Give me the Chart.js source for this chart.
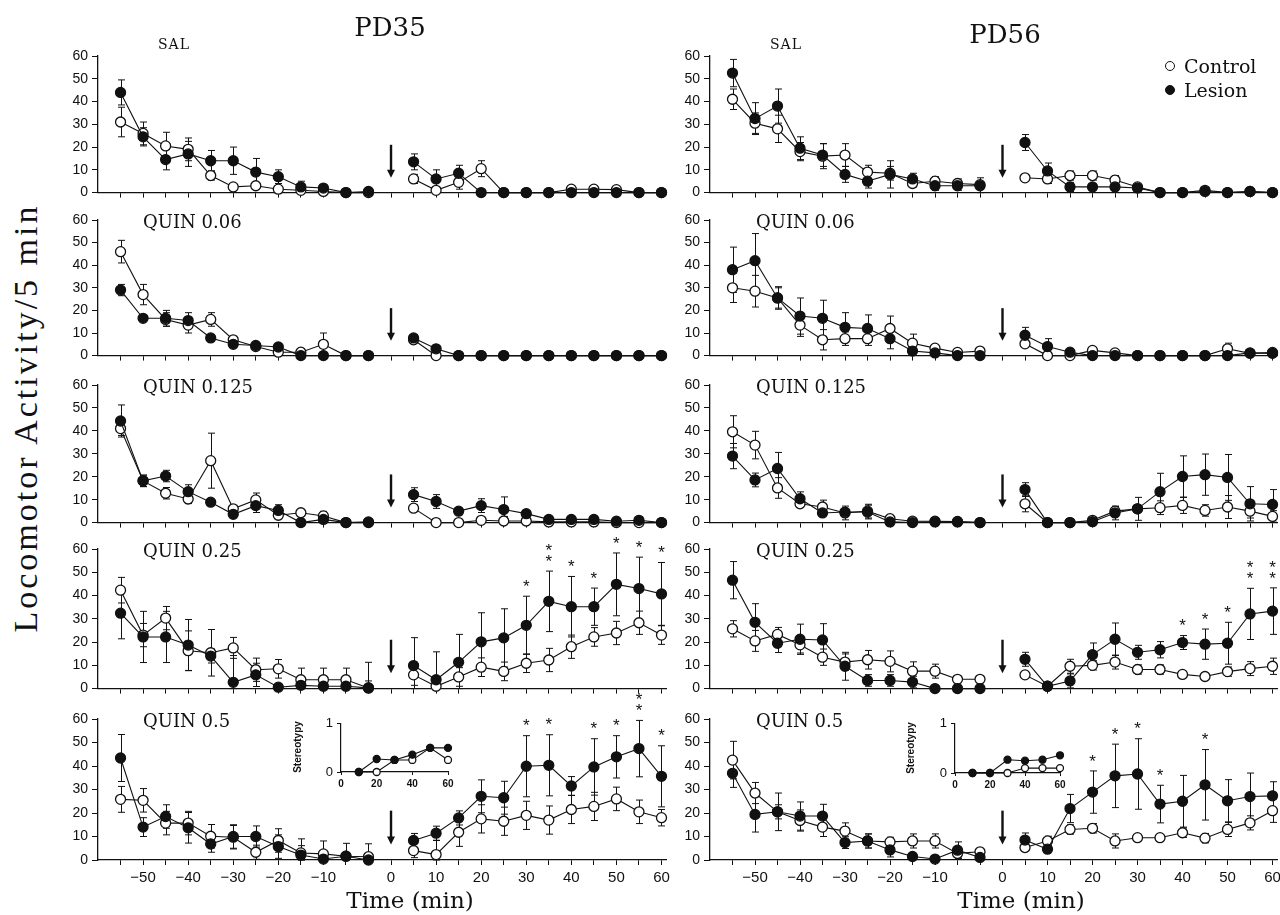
<!DOCTYPE html>
<html><head><meta charset="utf-8">
<script src="https://cdn.jsdelivr.net/npm/chart.js@4.4.1/dist/chart.umd.min.js"></script>
<style>
html,body{margin:0;padding:0;background:#fff;}
#page{position:relative;width:1280px;height:915px;overflow:hidden;background:#fff;color:#111;}
#page canvas{position:absolute;}
.lbl{position:absolute;white-space:nowrap;line-height:1;font-family:"DejaVu Serif",serif;color:#111;transform-origin:center center;}
.dot{position:absolute;width:10px;height:10px;border-radius:50%;border:1.3px solid #111;box-sizing:border-box;}
</style></head><body><div id="page"></div>
<script>
// ---------- time bins (plot positions) ----------
const preTimes  = [-60,-55,-50,-45,-40,-35,-30,-25,-20,-15,-10,-5];
const postTimes = [5,10,15,20,25,30,35,40,45,50,55,60];
const xTickPos  = [-55,-45,-35,-25,-15,0,10,20,30,40,50,60];
const xTickText = ['\u221250','\u221240','\u221230','\u221220','\u221210','0','10','20','30','40','50','60'];
const yTickVals = [0,10,20,30,40,50,60];

// ---------- PD35 ----------
const pd35SalControl    = [31,26,20.5,19,7.5,2.5,3,1.5,1,0.5,0,0,   6,1,4.5,10.5,0,0,0,1.5,1.5,1.3,0,0];
const pd35SalControlSem = [6.5,5,6,5,2,0,1,0,0,0,0,0,             2,1,3,3.5,0,0,0,0,0,0,0,0];
const pd35SalLesion     = [44,24.5,14.5,17,14,14,9,7,2.5,2,0,0.5,  13.5,6,8.5,0,0,0,0,0,0,0,0,0];
const pd35SalLesionSem  = [5.5,4,4.5,5.5,4.5,6,6,3,2.5,1,0,0,      3.5,4,3.5,0,0,0,0,0,0,0,0,0];

const pd35Q006Control    = [46,27,16,13.5,16,7,4,1.5,1.5,5,0,0,     7,0,0,0,0,0,0,0,0,0,0,0];
const pd35Q006ControlSem = [5,4.5,3,3.5,3,1.5,1,0,0,5,0,0,          0,0,0,0,0,0,0,0,0,0,0,0];
const pd35Q006Lesion     = [29,16.5,16.5,15.5,7.8,5,4.5,3.8,0,0,0,0, 7.8,3,0,0,0,0,0,0,0,0,0,0];
const pd35Q006LesionSem  = [2.5,0,3.5,3.5,0,1,1,1.5,0,0,0,0,        1.5,1,0,0,0,0,0,0,0,0,0,0];

const pd35Q0125Control    = [41,18.2,12.8,10.3,27,6,9.9,3.2,4.3,2.9,0,0,   6.3,0,0,1,0.7,0.7,0.3,0.3,0.3,0,0,0];
const pd35Q0125ControlSem = [3,2.5,2.5,2,12,0,3,0,0,2,0,0,                1.5,0,0,0,2,0,0,0,0,0,0,0];
const pd35Q0125Lesion     = [44.3,18.2,20.3,13.5,8.9,3.6,7.4,5.3,0,1.4,0,0.3, 12.2,9.2,5,7.4,5.7,3.9,1.4,1.4,1.4,0.6,1,0];
const pd35Q0125LesionSem  = [7,2.5,2.5,3,0,0,3,2.5,0,0,0,0,              3,3,0,3,5.5,0,0,0,0,0,0,0];

const pd35Q025Control    = [42.3,23,30.3,16.3,15.4,17.5,8.1,8.5,3.8,3.8,3.8,0.3, 5.9,1,5,9.2,7.4,10.9,12.3,18,22.2,23.9,28.3,23];
const pd35Q025ControlSem = [5.5,5,5,8.5,10,4.5,5,4,5,5,5,11,               4.5,0,4,4,4,4,5,5,4,5,5,4];
const pd35Q025Lesion     = [32.4,22.2,22.2,18.7,14,2.7,5.9,0.6,1.4,1,1,0.3,  9.9,3.8,11.3,20.1,21.8,27.2,37.5,35.2,35.2,44.8,43,40.7];
const pd35Q025LesionSem  = [11,11,11,11,3,11.5,5,0,2,0,0,3,                 12,12,12,12.5,12.5,12.5,13,13,8,13.5,13.5,13.5];
const pd35Q025Stars      = [0,0,0,0,0,1,2,1,1,1,1,1];

const pd35Q05Control    = [25.8,25.4,15.7,15.7,10.1,9.7,3.3,8.3,3,2.6,1.6,1.4,  4,2.3,11.8,17.5,16.5,19,17,21.5,22.8,26,20.5,18];
const pd35Q05ControlSem = [5.5,5,5,5,5,5,3,5,6,5.5,0,5.5,                   3,6,6,6,6,6,6,6,6,5,5,3.5];
const pd35Q05Lesion     = [43.4,14,18.5,13.7,6.8,10,10,5.7,2.1,0.4,1.6,0,   8.3,11.4,17.9,27.1,26.5,39.9,40.3,31.5,39.6,43.9,47.4,35.6];
const pd35Q05LesionSem  = [10,4,5,6.5,3.5,5,4.5,5,4,2,5.5,0,                3,3,3,7,7,13,13,4,12,9,12,13];
const pd35Q05Stars      = [0,0,0,0,0,1,1,0,1,1,2,1];

// ---------- PD56 ----------
const pd56SalControl    = [41,30.5,28,18,16,16.5,9,8.5,4,5,4,3.5,   6.5,6,7.5,7.5,5.5,2.5,0,0,1,0,0.5,0];
const pd56SalControlSem = [4.5,4.5,6,4,5.5,5,3,3,1.5,2,2,1,         0,2,2,2,2,0,0,0,0,0,0,0];
const pd56SalLesion     = [52.5,32.5,38,19.5,16.5,8,5,8,6,3,3,3,    22,9.5,2.5,2.5,2.5,2,0,0,0.5,0,0.5,0];
const pd56SalLesionSem  = [6,7,7.5,5,5,3.5,3,6,2.5,2,2,3.5,         3.5,3.5,2,0,0,0,0,0,0,0,0,0];

const pd56Q006Control    = [30,28.5,25.5,13.5,7,7.5,7.5,12,5.5,3.3,1.4,2,  5.2,0,0,2.3,1.2,0,0,0,0,3,1,1.4];
const pd56Q006ControlSem = [6.5,7,5,5,4.5,3,3,5.5,4,0,0,0,              1.5,0,0,0,0,0,0,0,0,2.5,0,0];
const pd56Q006Lesion     = [38,42,25.5,17.5,16.5,12.5,12,7.5,2,1.2,0,0,    9,4,1.5,0,0,0,0,0,0,0,1.2,1];
const pd56Q006LesionSem  = [10,12,4.5,8,8,6.5,6,4.5,0,0,0,0,             3.5,3.5,0,0,0,0,0,0,0,0,0,0];

const pd56Q0125Control    = [39.6,33.8,15.1,8.2,6.8,4.2,5,1.7,0.6,0.6,0.5,0,  8.2,0,0,1,5,6,6.5,7.5,5.3,6.8,5,2.7];
const pd56Q0125ControlSem = [7,6,4.5,0,3,3,3,0,0,0,0,0,                     3.5,0,0,0,2,0,3,3.5,2.5,5,3,2.5];
const pd56Q0125Lesion     = [29,18.6,23.6,10.4,4.2,4.6,4.6,0.3,0,0.3,0.3,0,   14.4,0,0,0.4,4.2,6,13.5,20.1,20.9,19.7,8.2,7.9];
const pd56Q0125LesionSem  = [5.5,3,7,3,0,0,3,0,0,0,0,0,                     3,0,0,0,3,5,8,9,9,10,7.5,6.5];

const pd56Q025Control    = [25.7,20.5,23.3,18.8,13.5,11.4,12.4,11.7,7.5,7.5,4,4,  5.9,1,9.6,10,11.4,8.2,8.2,6.1,5.2,7.3,8.6,9.6];
const pd56Q025ControlSem = [3.5,4.5,3,3.5,3.5,3.5,4,4.5,4,3,0,0,                0,0,3,2,3,2,2,1,0,2,3,3.5];
const pd56Q025Lesion     = [46.6,28.5,19.5,21.2,20.9,9.6,3.5,3.5,2.8,0,0,0,      12.6,1,3.3,14.6,21.2,15.6,16.7,19.8,19.1,19.5,32.1,33.3];
const pd56Q025LesionSem  = [8,8,4,6.5,7,6,2.5,2.5,2.5,0,0,0,                    3,0,3,5,7,3,3.5,3,6.5,9,11,10];
const pd56Q025Stars      = [0,0,0,0,0,0,0,1,1,1,2,2];

const pd56Q05Control    = [42.5,28.5,20.5,16.8,14,12.3,8.1,7.7,8.1,8.1,2.8,3.5,  5.3,8.1,13,13.5,8.1,9.5,9.5,11.6,9.3,13,15.8,21];
const pd56Q05ControlSem = [8,4.5,3,4.5,4,3.5,3,2,3,3,2,0,                       0,2,2,2,3,0,0,2,2,3,3,5];
const pd56Q05Lesion     = [36.9,19.4,20.5,18.7,18.7,7.4,8.1,4.3,1.5,0.4,4.2,1.1,  8.5,4.6,21.9,28.9,35.8,36.6,23.8,25,32,25.2,27,27.3];
const pd56Q05LesionSem  = [6,7.5,8,6,5,2.5,3,3,0,0,3.5,0,                       3,0,6,9,13.5,15,8,11,15,9,10,6];
const pd56Q05Stars      = [0,0,0,1,1,1,1,0,1,0,0,0];

// ---------- stereotypy insets ----------
const stereoTimes       = [10,20,30,40,50,60];
const stereoTicks       = [0,20,40,60];
const pd35StereoLesion  = [0,0.27,0.25,0.36,0.5,0.5];
const pd35StereoControl = [0,0,0.25,0.25,0.5,0.25];
const pd56StereoLesion  = [0,0,0.27,0.25,0.27,0.36];
const pd56StereoControl = [0,0,0,0.1,0.1,0.1];

// ---------- layout ----------
const page = document.getElementById('page');
const rowTop    = [56,220,385,549,719];
const rowBottom = [195,358,525,691,860];
const colLeft   = [98,710];
const colRight  = [666,1277];
const INK = '#111';

const binTimes = preTimes.concat(postTimes);
const tickSlots = preTimes.concat([0], postTimes);
function toPoints(vals){
  const pts = [];
  vals.forEach((v,i)=>{ if(i===preTimes.length) pts.push({x:0,y:null}); pts.push({x:binTimes[i],y:v}); });
  return pts;
}
function toSem(sem){
  const out = [];
  sem.forEach((e,i)=>{ if(i===preTimes.length) out.push(0); out.push(e); });
  return out;
}
function labelFor(v){ const i = xTickPos.indexOf(v); return i>=0 ? xTickText[i] : ''; }

const errorBarPlugin = {
  id:'errorBars',
  beforeDatasetsDraw(chart){
    const ctx = chart.ctx, ys = chart.scales.y;
    chart.data.datasets.forEach((ds,di)=>{
      if(!ds.sem) return;
      const meta = chart.getDatasetMeta(di);
      ctx.save(); ctx.strokeStyle = INK; ctx.lineWidth = 1;
      meta.data.forEach((pt,i)=>{
        const v = ds.data[i].y, e = ds.sem[i];
        if(v==null || !e) return;
        const x = Math.round(pt.x)+0.5;
        const yT = ys.getPixelForValue(v+e), yB = ys.getPixelForValue(Math.max(0,v-e));
        ctx.beginPath();
        ctx.moveTo(x,yB); ctx.lineTo(x,yT);
        ctx.moveTo(x-3.5,yT); ctx.lineTo(x+3.5,yT);
        ctx.moveTo(x-3.5,yB); ctx.lineTo(x+3.5,yB);
        ctx.stroke();
      });
      ctx.restore();
    });
  }
};

const marksPlugin = {
  id:'panelMarks',
  afterDatasetsDraw(chart, args, opts){
    const ctx = chart.ctx, xs = chart.scales.x, ys = chart.scales.y;
    // injection arrow
    const ax = xs.getPixelForValue(0);
    const y1 = ys.getPixelForValue(21), y2 = ys.getPixelForValue(7);
    ctx.save();
    ctx.strokeStyle = INK; ctx.fillStyle = INK; ctx.lineWidth = 2.4;
    ctx.beginPath(); ctx.moveTo(ax,y1); ctx.lineTo(ax,y2-6); ctx.stroke();
    ctx.beginPath(); ctx.moveTo(ax-4,y2-7); ctx.lineTo(ax+4,y2-7); ctx.lineTo(ax,y2+1); ctx.closePath(); ctx.fill();
    // significance stars above lesion error bars
    if(opts.stars){
      const ds = chart.data.datasets[0], meta = chart.getDatasetMeta(0);
      ctx.font = '17px "Liberation Sans"'; ctx.textAlign = 'center'; ctx.textBaseline = 'middle';
      opts.stars.forEach((n,j)=>{
        if(!n) return;
        const i = preTimes.length + 1 + j;
        const top = ys.getPixelForValue(ds.data[i].y + ds.sem[i]);
        for(let k=0;k<n;k++) ctx.fillText('*', meta.data[i].x, top - 9 - k*11);
      });
    }
    ctx.restore();
  }
};

function lineDs(label, pts, sem, fill, radius){
  return {label, data:pts, sem, borderColor:INK, borderWidth:1.1, pointRadius:radius, pointHoverRadius:radius,
    pointBorderColor:INK, pointBorderWidth:1.3, pointBackgroundColor:fill, backgroundColor:fill,
    spanGaps:false, clip:false, tension:0, fill:false};
}

function makePanel(p){
  const padTop = 34, yW = 50, padR = 14, xH = p.row===4 ? 34 : 10;
  const L = colLeft[p.col]-yW, T = rowTop[p.row]-padTop;
  const W = colRight[p.col]+padR-L;
  const H = rowBottom[p.row]-rowTop[p.row]+padTop+xH;
  const cv = document.createElement('canvas');
  cv.width=W; cv.height=H;
  Object.assign(cv.style,{left:L+'px',top:T+'px',width:W+'px',height:H+'px'});
  page.appendChild(cv);
  new Chart(cv,{
    type:'line',
    data:{datasets:[
      lineDs('Lesion', toPoints(p.les), toSem(p.lesSem), INK, 5),
      lineDs('Control', toPoints(p.ctrl), toSem(p.ctrlSem), '#fff', 5)
    ]},
    options:{
      responsive:false, animation:false, devicePixelRatio:1, events:[],
      layout:{padding:{top:padTop,right:padR,left:0,bottom:0}},
      plugins:{legend:{display:false}, tooltip:{enabled:false}, panelMarks:{stars:p.stars||null}},
      scales:{
        x:{type:'linear', min:-65, max:61,
          afterBuildTicks:s=>{ s.ticks = tickSlots.map(v=>({value:v})); },
          afterFit:s=>{ s.height = xH; },
          ticks:{autoSkip:false, maxRotation:0, padding:4, color:INK,
            font:{family:'Liberation Sans', size:15},
            callback:(v)=> p.row===4 ? labelFor(v) : ''},
          grid:{drawOnChartArea:false, drawTicks:true, tickLength:5, color:INK, lineWidth:1},
          border:{color:INK, width:1.3}},
        y:{type:'linear', min:0, max:60,
          afterBuildTicks:s=>{ s.ticks = yTickVals.map(v=>({value:v})); },
          afterFit:s=>{ s.width = yW; },
          ticks:{padding:4, color:INK, font:{family:'Liberation Sans', size:14}},
          grid:{drawOnChartArea:false, drawTicks:true, tickLength:6, color:INK, lineWidth:1},
          border:{color:INK, width:1.3}}
      }
    },
    plugins:[errorBarPlugin, marksPlugin]
  });
}

function makeInset(spec){
  const yW = 22, padTop = 8, padR = 10, xH = 18;
  const L = spec.x0-yW, T = spec.yTop-padTop;
  const W = spec.x1+padR-L, H = spec.yBot-spec.yTop+padTop+xH+2;
  const cv = document.createElement('canvas');
  cv.width=W; cv.height=H;
  Object.assign(cv.style,{left:L+'px',top:T+'px',width:W+'px',height:H+'px'});
  page.appendChild(cv);
  const mk = vals => vals.map((v,i)=>({x:stereoTimes[i], y:v}));
  new Chart(cv,{
    type:'line',
    data:{datasets:[
      lineDs('Lesion', mk(spec.les), null, INK, 3.5),
      lineDs('Control', mk(spec.ctrl), null, '#fff', 3.5)
    ]},
    options:{
      responsive:false, animation:false, devicePixelRatio:1, events:[],
      layout:{padding:{top:padTop,right:padR,left:0,bottom:2}},
      plugins:{legend:{display:false}, tooltip:{enabled:false}},
      scales:{
        x:{type:'linear', min:0, max:60,
          afterBuildTicks:s=>{ s.ticks = stereoTicks.map(v=>({value:v})); },
          afterFit:s=>{ s.height = xH; },
          ticks:{autoSkip:false, maxRotation:0, padding:3, color:INK, font:{family:'Liberation Sans', size:10, weight:'bold'}},
          grid:{drawOnChartArea:false, drawTicks:true, tickLength:3, color:INK},
          border:{color:INK, width:1.2}},
        y:{type:'linear', min:0, max:1,
          afterBuildTicks:s=>{ s.ticks = [0,1].map(v=>({value:v})); },
          afterFit:s=>{ s.width = yW; },
          ticks:{padding:4, color:INK, font:{family:'Liberation Sans', size:13}},
          grid:{drawOnChartArea:false, drawTicks:true, tickLength:4, color:INK},
          border:{color:INK, width:1.2}}
      }
    }
  });
}

const panels = [
  {col:0,row:0, ctrl:pd35SalControl, ctrlSem:pd35SalControlSem, les:pd35SalLesion, lesSem:pd35SalLesionSem},
  {col:0,row:1, ctrl:pd35Q006Control, ctrlSem:pd35Q006ControlSem, les:pd35Q006Lesion, lesSem:pd35Q006LesionSem},
  {col:0,row:2, ctrl:pd35Q0125Control, ctrlSem:pd35Q0125ControlSem, les:pd35Q0125Lesion, lesSem:pd35Q0125LesionSem},
  {col:0,row:3, ctrl:pd35Q025Control, ctrlSem:pd35Q025ControlSem, les:pd35Q025Lesion, lesSem:pd35Q025LesionSem, stars:pd35Q025Stars},
  {col:0,row:4, ctrl:pd35Q05Control, ctrlSem:pd35Q05ControlSem, les:pd35Q05Lesion, lesSem:pd35Q05LesionSem, stars:pd35Q05Stars},
  {col:1,row:0, ctrl:pd56SalControl, ctrlSem:pd56SalControlSem, les:pd56SalLesion, lesSem:pd56SalLesionSem},
  {col:1,row:1, ctrl:pd56Q006Control, ctrlSem:pd56Q006ControlSem, les:pd56Q006Lesion, lesSem:pd56Q006LesionSem},
  {col:1,row:2, ctrl:pd56Q0125Control, ctrlSem:pd56Q0125ControlSem, les:pd56Q0125Lesion, lesSem:pd56Q0125LesionSem},
  {col:1,row:3, ctrl:pd56Q025Control, ctrlSem:pd56Q025ControlSem, les:pd56Q025Lesion, lesSem:pd56Q025LesionSem, stars:pd56Q025Stars},
  {col:1,row:4, ctrl:pd56Q05Control, ctrlSem:pd56Q05ControlSem, les:pd56Q05Lesion, lesSem:pd56Q05LesionSem, stars:pd56Q05Stars}
];
panels.forEach(makePanel);
makeInset({x0:341,x1:448,yTop:720,yBot:772, les:pd35StereoLesion, ctrl:pd35StereoControl});
makeInset({x0:955,x1:1060,yTop:720,yBot:773, les:pd56StereoLesion, ctrl:pd56StereoControl});

// ---------- text ----------
function text(str, x, y, css, anchor, rot){
  const d = document.createElement('div');
  d.className = 'lbl'; d.textContent = str;
  d.style.left = x+'px'; d.style.top = y+'px';
  Object.assign(d.style, css||{});
  const tx = anchor==='center' ? '-50%' : '0';
  d.style.transform = `translate(${tx},-50%)` + (rot ? ` rotate(${rot})` : '');
  page.appendChild(d);
  return d;
}
text('PD35', 390, 27, {fontSize:'26px'}, 'center');
text('PD56', 1005, 34, {fontSize:'26px'}, 'center');
text('SAL', 158, 44, {fontSize:'14px', letterSpacing:'1px'});
text('SAL', 770, 44, {fontSize:'14px', letterSpacing:'1px'});
const rowLabels = ['QUIN 0.06','QUIN 0.125','QUIN 0.25','QUIN 0.5'];
rowLabels.forEach((s,i)=>{
  text(s, 143, rowTop[i+1]+2, {fontSize:'18px'});
  text(s, 756, rowTop[i+1]+2, {fontSize:'18px'});
});
text('Time (min)', 410, 900, {fontSize:'23px'}, 'center');
text('Time (min)', 1021, 900, {fontSize:'23px'}, 'center');
text('Locomotor Activity/5 min', 26, 418, {fontSize:'34px', fontFamily:'"Liberation Serif",serif', letterSpacing:'3px'}, 'center', '-90deg');
text('Stereotypy', 298, 747, {fontSize:'10px', fontFamily:'"Liberation Sans",sans-serif', fontWeight:'bold'}, 'center', '-90deg');
text('Stereotypy', 911, 748, {fontSize:'10px', fontFamily:'"Liberation Sans",sans-serif', fontWeight:'bold'}, 'center', '-90deg');
// legend
const d1 = document.createElement('div'); d1.className='dot'; Object.assign(d1.style,{left:'1165px',top:'61px',background:'#fff'}); page.appendChild(d1);
const d2 = document.createElement('div'); d2.className='dot'; Object.assign(d2.style,{left:'1165px',top:'85px',background:'#111'}); page.appendChild(d2);
text('Control', 1184, 66, {fontSize:'19px'});
text('Lesion', 1184, 90, {fontSize:'19px'});
</script></body></html>
